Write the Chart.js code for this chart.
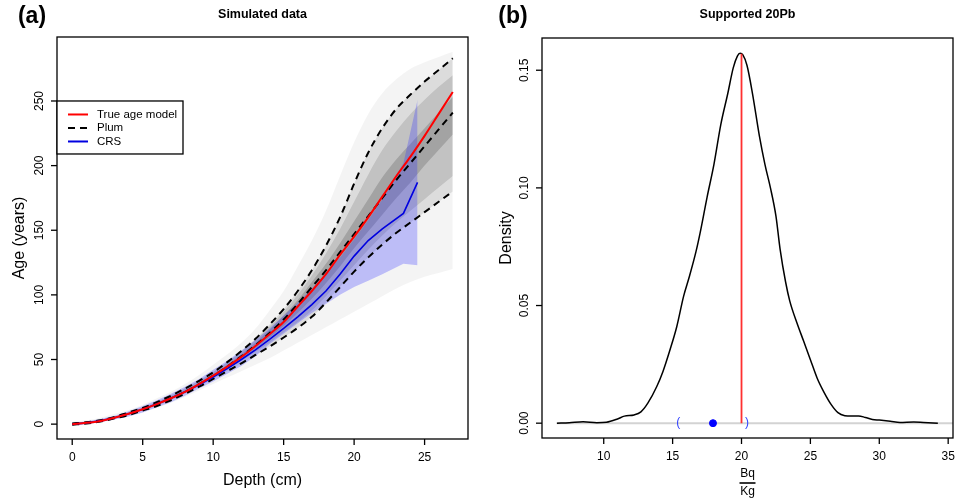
<!DOCTYPE html>
<html>
<head>
<meta charset="utf-8">
<script src="https://cdn.jsdelivr.net/npm/chart.js@4.4.1/dist/chart.umd.min.js"></script>
<style>
  html, body { margin: 0; padding: 0; background: #fff; }
  #wrap { position: relative; width: 959px; height: 501px; }
  canvas { position: absolute; top: 0; }
  #left  { left: 0; }
  #right { left: 480px; }
</style>
</head>
<body>
<div id="wrap">
  <canvas id="left" width="480" height="501"></canvas>
  <canvas id="right" width="479" height="501"></canvas>
</div>
<script>
// ── Panel (a): age-depth models ───────────────────────────
const depth      = [0,1,2,3,4,5,6,7,8,9,10,11,12,13,14,15,16,17,18,19,20,21,22,23,24,25,26,27];
const trueAge    = [0,1,2.5,5,8,11.5,15.5,20,25,31,37.5,44.5,52,60.5,69.5,79,91,103,116,131,145,160,176,192,207,223,240,257];
const plumMean   = [0,1,2.5,5,8,11.5,15.5,20,25,31,37.5,44.5,52.5,61,70.5,81,93,106,119,133,147,161,175,189,202,215,228,241];
const plumUpper  = [0.5,1.5,3,5.5,9,12.5,17,22,27.5,33.5,40,48,56.5,66,77,89,103,119,138,160,186,210,229,244,255,265,274,283];
const plumLower  = [-0.5,0.5,2,4.5,7,10.5,14,18.5,23.5,29,35,41,47,53.5,60,67,74.5,83,94,106,118,129,139,148,156,164,172,180];

// grey cloud of iterations, read as nested envelopes
const cloudOuterHi = [2,3,5,8,11,15,20,25,31,38,46,54,63,74,88,103,122,142,165,192,218,240,256,267,275,280,284,288];
const cloudOuterLo = [-1,0,1.5,3.5,6,9,12.5,16.5,21,26,31,36,41,46,51,57,63,69,75,81,87,93,99,105,110,114,117,120];
const cloud80Hi    = [1,2,3.5,6,9.5,13,17.5,22.5,28,34,40.5,48,56,65,75.5,87,100,115,132,151,172,193,212,227,240,251,261,270];
const cloud80Lo    = [-0.3,0.8,2.2,4.7,7.5,11,14.8,19,24,29.8,36,42.5,49,56,63,71,79,88,99,111,123,135,146,156,165,174,183,192];
const cloud50Hi    = [0.5,1.5,3,5.5,8.5,12,16,21,26,32,38.5,46,54,63,73,84,96,110,124,140,157,174,191,205,217,229,241,253];
const cloud50Lo    = [0,0.8,2.3,4.8,7.8,11.2,15.2,19.5,24.5,30.3,36.8,43.5,50.5,58.5,67,76,86,97,109,122,136,149,162,175,187,200,212,224];

const crsDepth = [0,1,2,3,4,5,6,7,8,9,10,11,12,13,14,15,16,17,18,19,20,21,22,23.5,24.5];
const crsAge   = [0,1,2.5,5,8,11.5,15.5,20,25,30.5,36.5,43,50,57.5,65.5,74,83,92.5,103,116,130,142,151,163,187];
const crsLo    = [-1,0,1.5,3.5,6,9,13,17,22,27.5,33,39,45,52.5,62,70,78,86,93,100,106,111,116,124,123];
const crsHi    = [1,2,4,6.5,10,14,18.5,23.5,29,35,42,49,57,65,74,84,94,105,117,129,143,158,174,202,251];

const ageXTicks = [0,5,10,15,20,25];
const ageYTicks = [0,50,100,150,200,250];
const legendLabels = ["True age model", "Plum", "CRS"];

// ── Panel (b): supported 210Pb density ────────────────────
const densX = [6.6,7.5,8.5,9.5,10.2,11,11.5,12.2,12.7,13.2,13.85,14.3,14.8,15.3,15.8,16.2,16.7,17,17.5,18,18.5,19,19.4,19.7,19.9,20.1,20.4,20.8,21.3,21.7,22.1,22.5,22.8,23.2,23.5,24,24.5,25,25.5,26,26.5,27,27.5,28,28.5,29,29.5,30,30.8,31.5,32.5,33.2,34.25];
const densY = [0,0.0002,0.0006,0.0002,0.0004,0.0018,0.003,0.0035,0.0048,0.0085,0.0156,0.022,0.031,0.041,0.054,0.062,0.073,0.081,0.096,0.11,0.127,0.14,0.151,0.156,0.1572,0.1565,0.152,0.14,0.122,0.11,0.1,0.088,0.074,0.06,0.052,0.043,0.035,0.027,0.019,0.013,0.008,0.0045,0.0032,0.003,0.0031,0.0024,0.0016,0.0013,0.0008,0.0003,0.0005,0.0003,0];
const trueSupported = 20;
const peakDensity   = 0.157;
const crsSupported  = 17.93;
const crsInterval   = [15.4, 20.39];
const densXTicks = [10,15,20,25,30,35];
const densYTicks = [0,0.05,0.1,0.15];
const densYLabels = ["0.00","0.05","0.10","0.15"];

const FONT = '"Liberation Sans", Arial, Helvetica, sans-serif';

// ── Helpers ───────────────────────────────────────────────
function pts(xs, ys) { return xs.map((x, i) => ({ x: x, y: ys[i] })); }

function band(xs, hi, lo, color, order, idx, smooth) {
  const mode = smooth ? "monotone" : "default";
  return [
    { data: pts(xs, hi), borderWidth: 0, pointRadius: 0, backgroundColor: color,
      fill: { target: idx + 1 }, order: order, cubicInterpolationMode: mode, tension: 0 },
    { data: pts(xs, lo), borderWidth: 0, pointRadius: 0, fill: false,
      order: order, cubicInterpolationMode: mode, tension: 0 }
  ];
}

// R style frame, ticks and labels, drawn from the chart's scales
function rFrame(o) {
  return {
    id: "rFrame",
    afterDraw(chart) {
      const { ctx, chartArea: a, scales: { x, y } } = chart;
      ctx.save();
      ctx.strokeStyle = "#000";
      ctx.lineWidth = 1.3;
      ctx.strokeRect(a.left, a.top, a.right - a.left, a.bottom - a.top);
      ctx.fillStyle = "#000";
      ctx.font = "12px " + FONT;
      ctx.textAlign = "center";
      ctx.textBaseline = "middle";
      o.xTicks.forEach((v, i) => {
        const px = x.getPixelForValue(v);
        ctx.beginPath(); ctx.moveTo(px, a.bottom); ctx.lineTo(px, a.bottom + 6); ctx.stroke();
        ctx.fillText(o.xLabels ? o.xLabels[i] : String(v), px, a.bottom + 19);
      });
      o.yTicks.forEach((v, i) => {
        const py = y.getPixelForValue(v);
        ctx.beginPath(); ctx.moveTo(a.left - 6, py); ctx.lineTo(a.left, py); ctx.stroke();
        ctx.save();
        ctx.translate(a.left - 17, py);
        ctx.rotate(-Math.PI / 2);
        ctx.fillText(o.yLabels ? o.yLabels[i] : String(v), 0, 0);
        ctx.restore();
      });
      const cx = (a.left + a.right) / 2, cy = (a.top + a.bottom) / 2;
      ctx.font = "bold 12.5px " + FONT;
      ctx.fillText(o.title, cx, 15);
      ctx.font = "bold 23px " + FONT;
      ctx.fillText(o.tag, o.tagX, 17);
      ctx.font = "16px " + FONT;
      ctx.save();
      ctx.translate(o.yTitleX, cy);
      ctx.rotate(-Math.PI / 2);
      ctx.fillText(o.yTitle, 0, 0);
      ctx.restore();
      if (o.drawXTitle) o.drawXTitle(ctx, cx, a);
      if (o.extra) o.extra(chart);
      ctx.restore();
    }
  };
}

// ── Left chart ────────────────────────────────────────────
const leftSets = [];
leftSets.push({ data: pts(depth, trueAge), borderColor: "red", borderWidth: 2, pointRadius: 0,
  fill: false, order: 1, cubicInterpolationMode: "monotone" });
leftSets.push({ data: pts(crsDepth, crsAge), borderColor: "#0000e0", borderWidth: 1.6, pointRadius: 0,
  fill: false, order: 2, tension: 0 });
[plumUpper, plumMean, plumLower].forEach(arr => {
  leftSets.push({ data: pts(depth, arr), borderColor: "#000", borderWidth: 2, borderDash: [7, 5],
    pointRadius: 0, fill: false, order: 3, cubicInterpolationMode: "monotone" });
});
let n = leftSets.length;
leftSets.push(...band(crsDepth, crsHi, crsLo, "rgba(40,40,255,0.27)", 4, n, false)); n += 2;
leftSets.push(...band(depth, cloud50Hi, cloud50Lo, "rgba(0,0,0,0.16)", 5, n, true)); n += 2;
leftSets.push(...band(depth, cloud80Hi, cloud80Lo, "rgba(0,0,0,0.12)", 6, n, true)); n += 2;
leftSets.push(...band(depth, plumUpper, plumLower, "rgba(0,0,0,0.10)", 7, n, true)); n += 2;
leftSets.push(...band(depth, cloudOuterHi, cloudOuterLo, "rgba(0,0,0,0.045)", 8, n, true)); n += 2;

new Chart(document.getElementById("left"), {
  type: "line",
  data: { datasets: leftSets },
  options: {
    responsive: false, animation: false, events: [],
    layout: { padding: { left: 57, right: 12, top: 37, bottom: 62 } },
    scales: {
      x: { type: "linear", min: -1.08, max: 28.08, display: false },
      y: { type: "linear", min: -11.5, max: 299.5, display: false }
    },
    plugins: { legend: { display: false }, tooltip: { enabled: false } }
  },
  plugins: [rFrame({
    xTicks: ageXTicks, yTicks: ageYTicks,
    title: "Simulated data", tag: "(a)", tagX: 32,
    yTitle: "Age (years)", yTitleX: 20,
    drawXTitle(ctx, cx, a) {
      ctx.font = "16px " + FONT;
      ctx.fillText("Depth (cm)", cx, 481);
    },
    extra(chart) {
      const { ctx, scales: { x, y } } = chart;
      const lx = x.getPixelForValue(-1.08), ly = y.getPixelForValue(250);
      ctx.fillStyle = "#fff";
      ctx.fillRect(lx, ly, 126, 53);
      ctx.strokeStyle = "#000"; ctx.lineWidth = 1.3;
      ctx.strokeRect(lx, ly, 126, 53);
      const styles = [{ c: "red", d: [] }, { c: "#000", d: [7, 5] }, { c: "#0000e0", d: [] }];
      ctx.font = "11.5px " + FONT;
      ctx.textAlign = "left"; ctx.fillStyle = "#000";
      legendLabels.forEach((lab, i) => {
        const yy = ly + 13.5 + i * 13.5;
        ctx.strokeStyle = styles[i].c; ctx.lineWidth = 2; ctx.setLineDash(styles[i].d);
        ctx.beginPath(); ctx.moveTo(lx + 11, yy); ctx.lineTo(lx + 31, yy); ctx.stroke();
        ctx.setLineDash([]);
        ctx.fillText(lab, lx + 40, yy);
      });
    }
  })]
});

// ── Right chart ───────────────────────────────────────────
new Chart(document.getElementById("right"), {
  type: "line",
  data: {
    datasets: [
      { data: [{ x: crsSupported, y: 0 }], showLine: false, pointRadius: 3.5, pointBackgroundColor: "blue",
        pointBorderColor: "blue", order: 0 },
      { data: [{ x: trueSupported, y: 0 }, { x: trueSupported, y: peakDensity }], borderColor: "#ff3030",
        borderWidth: 1.8, pointRadius: 0, order: 1 },
      { data: pts(densX, densY), borderColor: "#000", borderWidth: 1.5, pointRadius: 0,
        cubicInterpolationMode: "monotone", order: 2 },
      { data: [{ x: densX[0], y: 0 }, { x: 35.35, y: 0 }], borderColor: "#d3d3d3", borderWidth: 2,
        pointRadius: 0, order: 3 }
    ]
  },
  options: {
    responsive: false, animation: false, events: [],
    layout: { padding: { left: 62, right: 6, top: 38, bottom: 63 } },
    scales: {
      x: { type: "linear", min: 5.52, max: 35.35, display: false },
      y: { type: "linear", min: -0.0063, max: 0.1637, display: false }
    },
    plugins: { legend: { display: false }, tooltip: { enabled: false } }
  },
  plugins: [rFrame({
    xTicks: densXTicks, yTicks: densYTicks, yLabels: densYLabels,
    title: "Supported 20Pb", tag: "(b)", tagX: 33,
    yTitle: "Density", yTitleX: 27,
    drawXTitle(ctx, cx, a) {
      ctx.font = "12px " + FONT;
      ctx.fillText("Bq", cx, 474);
      ctx.fillText("Kg", cx, 492);
      ctx.lineWidth = 1.6;
      ctx.beginPath(); ctx.moveTo(cx - 8, 483); ctx.lineTo(cx + 8, 483); ctx.stroke();
    },
    extra(chart) {
      const { ctx, scales: { x, y } } = chart;
      ctx.fillStyle = "#3344ff";
      ctx.font = "12px " + FONT;
      ctx.fillText("(", x.getPixelForValue(crsInterval[0]), y.getPixelForValue(0));
      ctx.fillText(")", x.getPixelForValue(crsInterval[1]), y.getPixelForValue(0));
    }
  })]
});
</script>
</body>
</html>
